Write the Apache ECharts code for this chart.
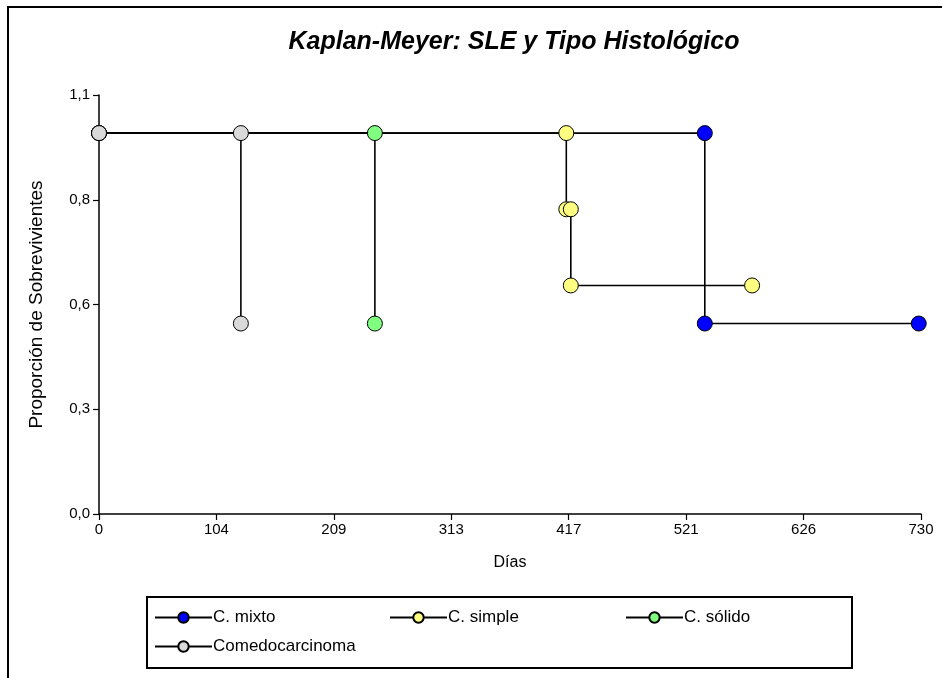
<!DOCTYPE html>
<html><head><meta charset="utf-8">
<script src="https://cdn.jsdelivr.net/npm/echarts@6/dist/echarts.min.js"></script>
<style>html,body{margin:0;padding:0;background:#fff}#c{width:942px;height:678px}</style>
</head><body><div id="c"></div>
<script>
const seriesNames = ['C. mixto', 'C. simple', 'C. sólido', 'Comedocarcinoma'];
const seriesColors = ['#0000FF', '#FFFF80', '#80FF80', '#D9D9D9'];
// [day, proportion]
const mixto = [[0, 1], [538, 1], [538, 0.5], [728, 0.5]];
const simple = [[0, 1], [415, 1], [415, 0.8], [419, 0.8], [419, 0.6], [580, 0.6]];
const solido = [[0, 1], [245, 1], [245, 0.5]];
const comedo = [[0, 1], [126, 1], [126, 0.5]];
const xTickLabels = ['0', '104', '209', '313', '417', '521', '626', '730'];
const yTickLabels = ['0,0', '0,3', '0,6', '0,8', '1,1'];
const xMax = 730, yMax = 1.1;

const allData = [mixto, simple, solido, comedo];
const font = 'Liberation Sans, Arial, sans-serif';
const legendPos = [[154, 609], [389, 609], [625, 609], [154, 638]];
const chart = echarts.init(document.getElementById('c'));
chart.setOption({
  animation: false,
  backgroundColor: '#fff',
  title: {
    text: 'Kaplan-Meyer: SLE y Tipo Histológico',
    left: 509, textAlign: 'center', top: 25,
    textStyle: { fontFamily: font, fontSize: 25, fontWeight: 'bold', fontStyle: 'italic', color: '#000' }
  },
  graphic: [
    { type: 'rect', shape: { x: 8, y: 7, width: 960, height: 720 }, style: { fill: 'none', stroke: '#000', lineWidth: 2 }, silent: true },
    { type: 'rect', shape: { x: 147, y: 597, width: 705, height: 71 }, style: { fill: 'none', stroke: '#000', lineWidth: 2 }, silent: true }
  ],
  legend: seriesNames.map((n, i) => ({
    left: legendPos[i][0], top: legendPos[i][1], padding: 0,
    itemWidth: 57, itemHeight: 13, itemGap: 0,
    data: [n],
    textStyle: { fontFamily: font, fontSize: 17, color: '#000', padding: [0, 0, 0, -4] }
  })),
  grid: { left: 99, right: 21, top: 95, bottom: 164 },
  xAxis: {
    type: 'value', min: 0, max: xMax, interval: xMax / 7,
    name: 'Días', nameLocation: 'middle', nameGap: 41,
    nameTextStyle: { fontFamily: font, fontSize: 16, color: '#000' },
    axisLine: { lineStyle: { color: '#000', width: 1.5 } },
    axisTick: { show: true, length: 6, lineStyle: { color: '#000', width: 1.2 } },
    axisLabel: { fontFamily: font, fontSize: 15, color: '#000', margin: 8,
      formatter: (v) => xTickLabels[Math.round(v / (xMax / 7))] },
    splitLine: { show: false }
  },
  yAxis: {
    type: 'value', min: 0, max: yMax, interval: yMax / 4,
    name: 'Proporción de Sobrevivientes', nameLocation: 'middle', nameGap: 53,
    nameTextStyle: { fontFamily: font, fontSize: 19, color: '#000' },
    axisLine: { show: true, lineStyle: { color: '#000', width: 1.5 } },
    axisTick: { show: true, length: 6, lineStyle: { color: '#000', width: 1.2 } },
    axisLabel: { fontFamily: font, fontSize: 15, color: '#000', margin: 9,
      formatter: (v) => yTickLabels[Math.round(v / (yMax / 4))] },
    splitLine: { show: false }
  },
  series: seriesNames.map((n, i) => ({
    name: n, type: 'line', data: allData[i],
    symbol: 'circle', symbolSize: 15, showAllSymbol: true,
    lineStyle: { color: '#000', width: 1.6 },
    itemStyle: { color: seriesColors[i], borderColor: '#000', borderWidth: 1 },
    z: 2 + i
  }))
});
</script></body></html>
